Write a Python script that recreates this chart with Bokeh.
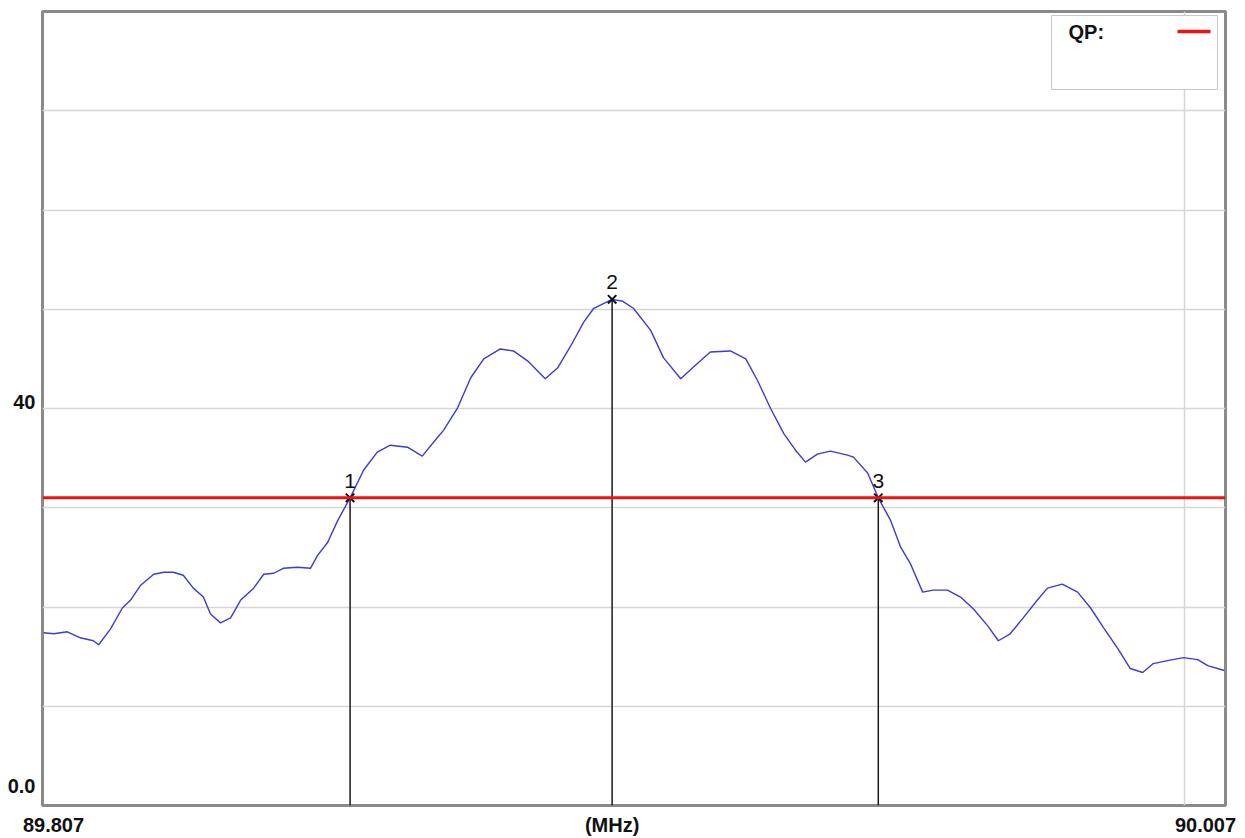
from bokeh.plotting import figure
from bokeh.models import Range1d, FixedTicker, Span
from bokeh.core.properties import value
from bokeh.embed import file_html
from bokeh.resources import INLINE

# ---------------- data ----------------
FREQ_MHZ = [
    89.8072, 89.8089, 89.8112, 89.8134, 89.8156, 89.8165, 89.8185, 89.8205, 89.8219, 89.8236,
    89.8258, 89.8275, 89.8291, 89.8308, 89.8325, 89.8342, 89.8354, 89.8371, 89.8388, 89.8405,
    89.8427, 89.8444, 89.8461, 89.8477, 89.8501, 89.8523, 89.8535, 89.8552, 89.8569, 89.8590,
    89.8613, 89.8636, 89.8658, 89.8687, 89.8712, 89.8738, 89.8748, 89.8772, 89.8794, 89.8816,
    89.8844, 89.8866, 89.8890, 89.8920, 89.8941, 89.8963, 89.8985, 89.9002, 89.9033, 89.9051,
    89.9069, 89.9098, 89.9120, 89.9149, 89.9171, 89.9199, 89.9233, 89.9259, 89.9279, 89.9301,
    89.9323, 89.9343, 89.9360, 89.9380, 89.9402, 89.9431, 89.9441, 89.9465, 89.9483, 89.9504,
    89.9521, 89.9537, 89.9558, 89.9576, 89.9600, 89.9622, 89.9644, 89.9668, 89.9686, 89.9706,
    89.9728, 89.9752, 89.9769, 89.9794, 89.9820, 89.9842, 89.9864, 89.9888, 89.9909, 89.9930,
    89.9948, 89.9972, 89.9999, 90.0023, 90.0040, 90.0068,
]
LEVEL = [
    17.4, 17.3, 17.5, 16.9, 16.6, 16.2, 17.8, 19.9, 20.7, 22.2,
    23.3, 23.5, 23.5, 23.2, 21.9, 21.0, 19.3, 18.4, 18.9, 20.7,
    21.9, 23.3, 23.4, 23.9, 24.0, 23.9, 25.2, 26.5, 28.7, 31.0,
    33.8, 35.6, 36.3, 36.1, 35.2, 37.1, 37.8, 40.1, 43.1, 45.0,
    46.0, 45.8, 44.8, 43.0, 44.1, 46.3, 48.7, 50.1, 51.0, 50.8,
    50.1, 47.9, 45.1, 43.0, 44.2, 45.7, 45.8, 45.0, 42.8, 40.0,
    37.5, 35.8, 34.6, 35.4, 35.7, 35.3, 35.1, 33.5, 31.0, 28.7,
    26.0, 24.4, 21.5, 21.7, 21.7, 21.0, 19.8, 18.1, 16.6, 17.3,
    18.9, 20.7, 21.9, 22.3, 21.5, 19.9, 17.9, 15.8, 13.8, 13.4,
    14.3, 14.6, 14.9, 14.7, 14.1, 13.6,
]
MARKER_FREQ = [89.8590, 89.9033, 89.9483]
MARKER_LEVEL = [31.0, 51.0, 31.0]
MARKER_NAMES = ["1", "2", "3"]
QP_LIMIT = 31.0
LEGEND_LABEL = "QP:"
X_MIN, X_MAX = 89.807, 90.007
Y_MIN, Y_MAX = 0.0, 80.0
X_TICK_VALUES = [89.807, 89.9033, 90.007]
X_TICK_LABELS = ["89.807", "(MHz)", "90.007"]
Y_TICK_VALUES = [0.0, 40.0]
Y_TICK_LABELS = ["0.0", "40"]
Y_GRID = [10, 20, 30, 40, 50, 60, 70]
X_GRID = [90.000]

# ---------------- layout ----------------
W, H = 1245, 838
ML, MR, MT, MB = 42, 20, 11, 33
FW = W - ML - MR
FH = H - MT - MB
px_x = (X_MAX - X_MIN) / FW
px_y = (Y_MAX - Y_MIN) / FH

FONT = "Liberation Sans"

p = figure(width=W, height=H, output_backend="svg", toolbar_location=None,
           x_range=Range1d(X_MIN, X_MAX), y_range=Range1d(Y_MIN, Y_MAX),
           min_border_left=ML, min_border_right=MR, min_border_top=MT,
           min_border_bottom=MB)
p.background_fill_color = "white"
p.border_fill_color = "white"
p.outline_line_color = "#8a8a8a"
p.outline_line_width = 3

# grids
p.xgrid.ticker = FixedTicker(ticks=X_GRID)
p.ygrid.ticker = FixedTicker(ticks=Y_GRID)
for g in (p.xgrid, p.ygrid):
    g.grid_line_color = "#d6d6d6"
    g.grid_line_width = 1.5

# axes: labels nudged inside like the analyzer display
x_nudge = [11 * px_x, 0.0, -20 * px_x]
x_ticks = [v + n for v, n in zip(X_TICK_VALUES, x_nudge)]
y_nudge = [20 * px_y, 6.5 * px_y]
y_ticks = [v + n for v, n in zip(Y_TICK_VALUES, y_nudge)]

xa = p.xaxis[0]
xa.ticker = FixedTicker(ticks=x_ticks)
xa.major_label_overrides = {t: l for t, l in zip(x_ticks, X_TICK_LABELS)}
ya = p.yaxis[0]
ya.ticker = FixedTicker(ticks=y_ticks)
ya.major_label_overrides = {t: l for t, l in zip(y_ticks, Y_TICK_LABELS)}
for ax in (xa, ya):
    ax.axis_line_color = None
    ax.major_tick_line_color = None
    ax.minor_tick_line_color = None
    ax.major_tick_out = 0
    ax.major_tick_in = 0
    ax.major_label_text_font = FONT
    ax.major_label_text_font_style = "bold"
    ax.major_label_text_color = "#111111"
    ax.major_label_text_font_size = "20px"
xa.major_label_standoff = 8
ya.major_label_standoff = 7

# trace
p.line(FREQ_MHZ, LEVEL, line_color="#3b3bd6", line_width=1.4)

# marker drop lines
p.segment(x0=MARKER_FREQ, y0=[Y_MIN] * 3, x1=MARKER_FREQ, y1=MARKER_LEVEL,
          line_color="#1a1a1a", line_width=1.5)

# QP limit line
p.add_layout(Span(location=QP_LIMIT, dimension="width", line_color="#ee1111",
                  line_width=3))

# markers
p.scatter(MARKER_FREQ, MARKER_LEVEL, marker="x", size=12, line_color="#111111",
          line_width=2)
p.text(MARKER_FREQ, MARKER_LEVEL, text=MARKER_NAMES, text_align="center",
       text_baseline="bottom", y_offset=-10, text_font=value(FONT),
       text_font_size="21px", text_color="#111111")

# legend box (top-right)
lx0 = X_MAX - (1225 - 1051) * px_x
lx1 = X_MAX - (1225 - 1217) * px_x
ly1 = Y_MAX - (15 - 11) * px_y
ly0 = Y_MAX - (89 - 11) * px_y
p.quad(left=[lx0], right=[lx1], bottom=[ly0], top=[ly1], fill_color="white",
       line_color="#c8c8c8", line_width=1)
p.text([lx0 + 17 * px_x], [ly1 - 5 * px_y], text=[LEGEND_LABEL], text_align="left",
       text_baseline="top", text_font=value(FONT), text_font_style="bold",
       text_font_size="20px", text_color="#111111")
p.segment(x0=[lx1 - 40 * px_x], y0=[ly1 - 16 * px_y], x1=[lx1 - 7 * px_x],
          y1=[ly1 - 16 * px_y], line_color="#ee1111", line_width=3.5)

open("out.html", "w").write(file_html(p, INLINE))
